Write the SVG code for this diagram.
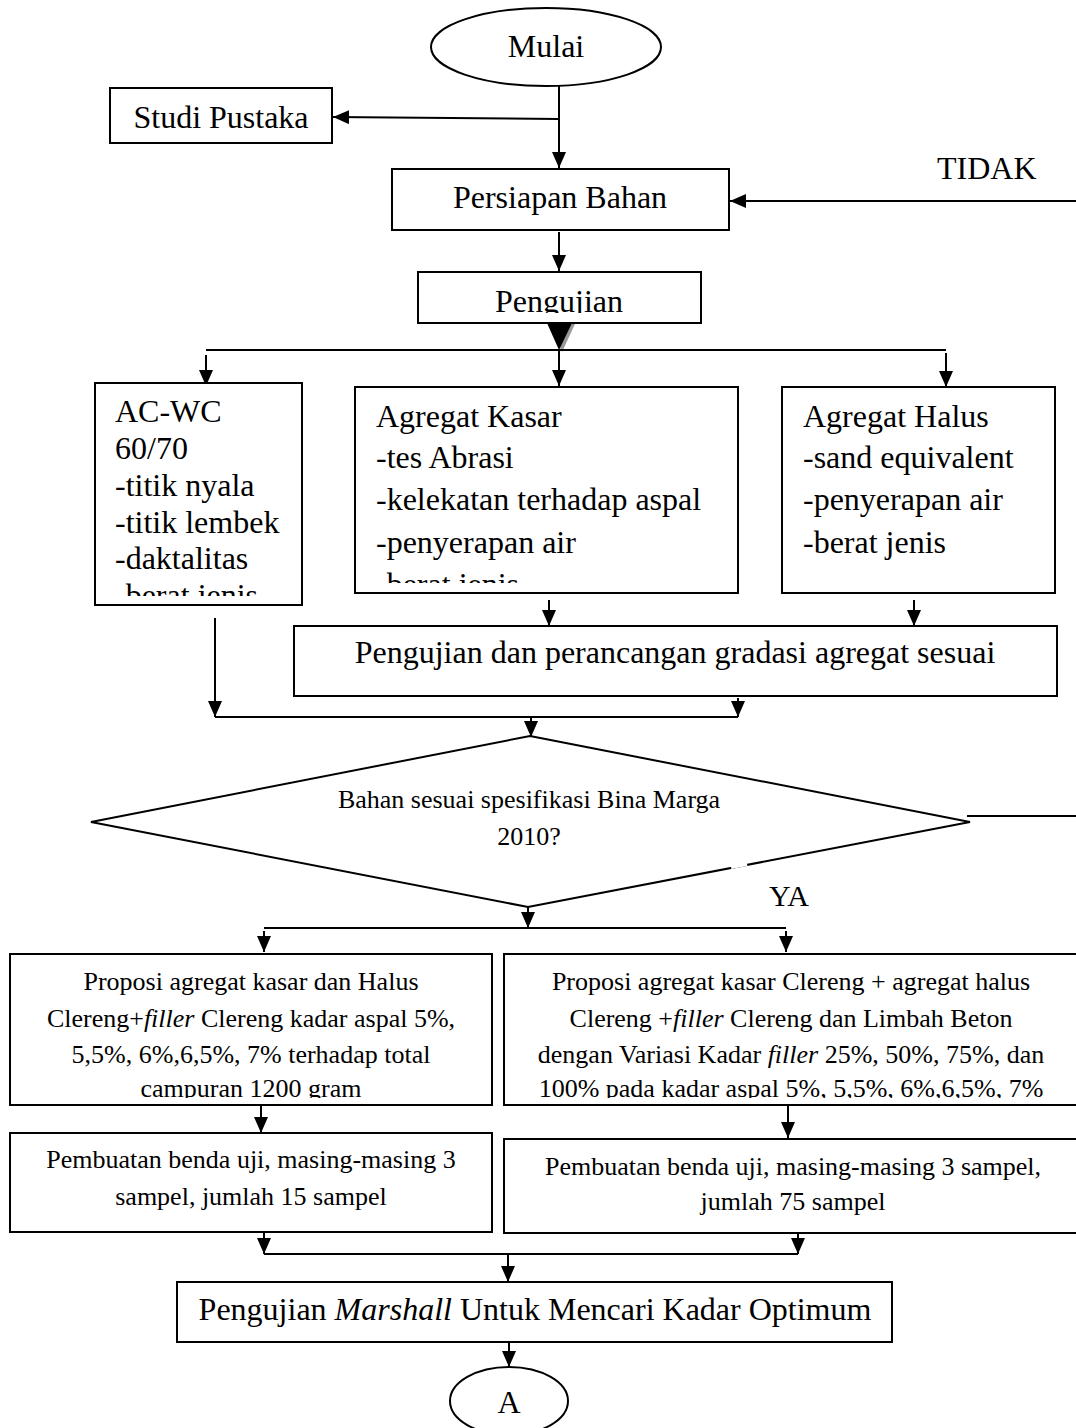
<svg xmlns="http://www.w3.org/2000/svg" width="1076" height="1428" viewBox="0 0 1076 1428">
<style>
.box{fill:#fff;stroke:#000;stroke-width:2}
.ln{fill:none;stroke:#000;stroke-width:2}
.t{font-family:"Liberation Serif","Times New Roman",serif;fill:#000}
.t32{font-size:32px}
.t26{font-size:26px}
.c{text-anchor:middle}
</style>
<defs>
<marker id="ah" viewBox="0 0 16 14" refX="16" refY="7" markerWidth="16" markerHeight="14" markerUnits="userSpaceOnUse" orient="auto">
<path d="M0,0 L16,7 L0,14 z" fill="#000"/>
</marker>
<clipPath id="cpPeng"><rect x="418" y="272" width="283" height="41"/></clipPath>
<clipPath id="cpAc"><rect x="95" y="383" width="207" height="213"/></clipPath>
<clipPath id="cpKasar"><rect x="355" y="387" width="383" height="196"/></clipPath>
<clipPath id="cpL1"><rect x="10" y="954" width="482" height="144"/></clipPath>
<clipPath id="cpR1"><rect x="504" y="954" width="580" height="144"/></clipPath>
</defs>
<rect width="1076" height="1428" fill="#fff"/>

<g id="connectors">
<line class="ln" x1="559" y1="86" x2="559" y2="168" marker-end="url(#ah)"/>
<line class="ln" x1="559" y1="119" x2="333" y2="117" marker-end="url(#ah)"/>
<line class="ln" x1="1076" y1="201" x2="730" y2="201" stroke-width="2.5" marker-end="url(#ah)"/>
<line class="ln" x1="559" y1="232" x2="559" y2="271" marker-end="url(#ah)"/>
<polygon points="550,324 575,324 562,352" fill="#999"/>
<polygon points="547,323 572,323 559,350" fill="#000"/>
<line class="ln" x1="206" y1="350" x2="946" y2="350"/>
<line class="ln" x1="206" y1="355" x2="206" y2="386" marker-end="url(#ah)"/>
<line class="ln" x1="559" y1="350" x2="559" y2="386" marker-end="url(#ah)"/>
<line class="ln" x1="946" y1="353" x2="946" y2="387" marker-end="url(#ah)"/>
<line class="ln" x1="549" y1="600" x2="549" y2="626" marker-end="url(#ah)"/>
<line class="ln" x1="914" y1="600" x2="914" y2="626" marker-end="url(#ah)"/>
<line class="ln" x1="215" y1="618" x2="215" y2="717" marker-end="url(#ah)"/>
<line class="ln" x1="738" y1="698" x2="738" y2="717" marker-end="url(#ah)"/>
<line class="ln" x1="215" y1="717" x2="738" y2="717"/>
<line class="ln" x1="531" y1="717" x2="531" y2="737" marker-end="url(#ah)"/>
<line class="ln" x1="967" y1="816" x2="1076" y2="816"/>
<line class="ln" x1="528" y1="907" x2="528" y2="928" marker-end="url(#ah)"/>
<line class="ln" x1="264" y1="928" x2="786" y2="928"/>
<line class="ln" x1="264" y1="931" x2="264" y2="952" marker-end="url(#ah)"/>
<line class="ln" x1="786" y1="931" x2="786" y2="952" marker-end="url(#ah)"/>
<line class="ln" x1="261" y1="1106" x2="261" y2="1133" marker-end="url(#ah)"/>
<line class="ln" x1="788" y1="1106" x2="788" y2="1138" marker-end="url(#ah)"/>
<line class="ln" x1="264" y1="1233" x2="264" y2="1254" marker-end="url(#ah)"/>
<line class="ln" x1="798" y1="1233" x2="798" y2="1254" marker-end="url(#ah)"/>
<line class="ln" x1="264" y1="1254" x2="798" y2="1254"/>
<line class="ln" x1="508" y1="1254" x2="508" y2="1282" marker-end="url(#ah)"/>
<line class="ln" x1="509" y1="1343" x2="509" y2="1367" marker-end="url(#ah)"/>
</g>

<g id="mulai">
<ellipse class="box" cx="546" cy="47" rx="115" ry="39"/>
<text class="t t32 c" x="546" y="57">Mulai</text>
</g>

<g id="studi">
<rect class="box" x="110" y="88" width="222" height="55"/>
<text class="t t32 c" x="221" y="128">Studi Pustaka</text>
</g>

<g id="persiapan">
<rect class="box" x="392" y="169" width="337" height="61"/>
<text class="t t32 c" x="560" y="208">Persiapan Bahan</text>
</g>

<text id="lbl-tidak" class="t t32" x="937" y="179">TIDAK</text>

<g id="pengujian">
<rect class="box" x="418" y="272" width="283" height="51"/>
<text class="t t32 c" x="559" y="312" clip-path="url(#cpPeng)">Pengujian</text>
</g>

<g id="acwc">
<rect class="box" x="95" y="383" width="207" height="222"/>
<g clip-path="url(#cpAc)">
<text class="t t32" x="115" y="422">AC-WC</text>
<text class="t t32" x="115" y="459">60/70</text>
<text class="t t32" x="115" y="496">-titik nyala</text>
<text class="t t32" x="115" y="533">-titik lembek</text>
<text class="t t32" x="115" y="569">-daktalitas</text>
<text class="t t32" x="115" y="606">-berat jenis</text>
</g>
</g>

<g id="kasar">
<rect class="box" x="355" y="387" width="383" height="206"/>
<g clip-path="url(#cpKasar)">
<text class="t t32" x="376" y="427">Agregat Kasar</text>
<text class="t t32" x="376" y="468">-tes Abrasi</text>
<text class="t t32" x="376" y="510">-kelekatan terhadap aspal</text>
<text class="t t32" x="376" y="553">-penyerapan air</text>
<text class="t t32" x="376" y="595">-berat jenis</text>
</g>
</g>

<g id="halus">
<rect class="box" x="782" y="387" width="273" height="206"/>
<text class="t t32" x="803" y="427">Agregat Halus</text>
<text class="t t32" x="803" y="468">-sand equivalent</text>
<text class="t t32" x="803" y="510">-penyerapan air</text>
<text class="t t32" x="803" y="553">-berat jenis</text>
</g>

<g id="gradasi">
<rect class="box" x="294" y="626" width="763" height="70"/>
<text class="t t32 c" x="675" y="663">Pengujian dan perancangan gradasi agregat sesuai</text>
</g>

<g id="keputusan">
<polygon class="box" points="530,736 970,822 528,907 91,822"/>
<line x1="731" y1="867" x2="747" y2="864" stroke="#fff" stroke-width="4"/>
<text class="t t26 c" x="529" y="808">Bahan sesuai spesifikasi Bina Marga</text>
<text class="t t26 c" x="529" y="845">2010?</text>
</g>

<text id="lbl-ya" class="t" font-size="30" x="769" y="906">YA</text>

<g id="proporsi-kiri">
<rect class="box" x="10" y="954" width="482" height="151"/>
<g clip-path="url(#cpL1)">
<text class="t t26 c" x="251" y="990">Proposi agregat kasar dan Halus</text>
<text class="t t26 c" x="251" y="1027">Clereng+<tspan font-style="italic">filler</tspan> Clereng kadar aspal 5%,</text>
<text class="t t26 c" x="251" y="1063">5,5%, 6%,6,5%, 7% terhadap total</text>
<text class="t t26 c" x="251" y="1097">campuran 1200 gram</text>
</g>
</g>

<g id="proporsi-kanan">
<rect class="box" x="504" y="954" width="580" height="151"/>
<g clip-path="url(#cpR1)">
<text class="t t26 c" x="791" y="990">Proposi agregat kasar Clereng + agregat halus</text>
<text class="t t26 c" x="791" y="1027">Clereng +<tspan font-style="italic">filler</tspan> Clereng dan Limbah Beton</text>
<text class="t t26 c" x="791" y="1063">dengan Variasi Kadar <tspan font-style="italic">filler</tspan> 25%, 50%, 75%, dan</text>
<text class="t t26 c" x="791" y="1097">100% pada kadar aspal 5%, 5,5%, 6%,6,5%, 7%</text>
</g>
</g>

<g id="benda-kiri">
<rect class="box" x="10" y="1133" width="482" height="99"/>
<text class="t t26 c" x="251" y="1168">Pembuatan benda uji, masing-masing 3</text>
<text class="t t26 c" x="251" y="1205">sampel, jumlah 15 sampel</text>
</g>

<g id="benda-kanan">
<rect class="box" x="504" y="1139" width="580" height="94"/>
<text class="t t26 c" x="793" y="1175">Pembuatan benda uji, masing-masing 3 sampel,</text>
<text class="t t26 c" x="793" y="1210">jumlah 75 sampel</text>
</g>

<g id="marshall">
<rect class="box" x="177" y="1282" width="715" height="60"/>
<text class="t t32 c" x="535" y="1320">Pengujian <tspan font-style="italic">Marshall</tspan> Untuk Mencari Kadar Optimum</text>
</g>

<g id="konektor-a">
<ellipse class="box" cx="509" cy="1401" rx="59" ry="34"/>
<text class="t t32 c" x="509" y="1413">A</text>
</g>
</svg>
